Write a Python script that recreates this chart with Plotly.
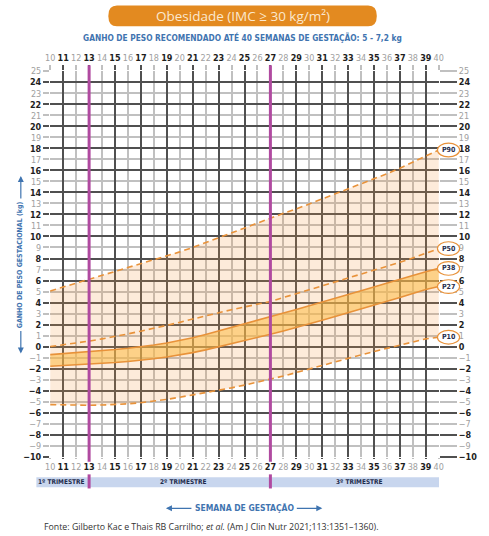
import plotly.graph_objects as go

# ---------------- data ----------------
weeks = list(range(10, 41))
p90 = [5.05, 5.4, 5.75, 6.1, 6.45, 6.8, 7.15, 7.55, 7.85, 8.2, 8.6, 9.0, 9.45, 9.9, 10.35, 10.8,
       11.25, 11.7, 12.1, 12.5, 12.95, 13.4, 13.85, 14.3, 14.75, 15.2, 15.7, 16.2, 16.75, 17.3, 17.85]
p50 = [0.0, 0.15, 0.3, 0.5, 0.7, 0.9, 1.15, 1.4, 1.65, 1.9, 2.2, 2.5, 2.8, 3.1, 3.35, 3.6,
       3.85, 4.1, 4.45, 4.8, 5.15, 5.5, 5.85, 6.25, 6.6, 6.95, 7.3, 7.65, 8.05, 8.45, 8.9]
p38 = [-0.73, -0.65, -0.56, -0.48, -0.38, -0.27, -0.15, -0.03, 0.15, 0.33, 0.55, 0.8, 1.1, 1.42, 1.72, 2.02,
       2.35, 2.7, 3.03, 3.36, 3.7, 4.06, 4.4, 4.73, 5.07, 5.4, 5.75, 6.1, 6.45, 6.8, 7.1]
p27 = [-1.79, -1.73, -1.66, -1.6, -1.52, -1.45, -1.35, -1.24, -1.1, -0.94, -0.75, -0.55, -0.3, -0.03, 0.25, 0.53,
       0.82, 1.12, 1.42, 1.73, 2.06, 2.4, 2.73, 3.06, 3.41, 3.76, 4.1, 4.45, 4.82, 5.18, 5.45]
p10 = [-5.27, -5.3, -5.32, -5.33, -5.31, -5.27, -5.2, -5.1, -4.97, -4.8, -4.6, -4.4, -4.18, -3.97, -3.75, -3.5,
       -3.25, -3.0, -2.68, -2.36, -2.03, -1.7, -1.38, -1.06, -0.75, -0.45, -0.15, 0.15, 0.43, 0.7, 0.85]

curve_names = ["P90", "P50", "P38", "P27", "P10"]
trimester_weeks = [13, 27]
trimester_labels = ["1º TRIMESTRE", "2º TRIMESTRE", "3º TRIMESTRE"]
trimester_label_x = [10.9, 20.3, 33.9]

title_text = "Obesidade (IMC ≥ 30 kg/m²)"
subtitle_text = "GANHO DE PESO RECOMENDADO ATÉ 40 SEMANAS DE GESTAÇÃO: 5 - 7,2 kg"
ytitle_text = "GANHO DE PESO GESTACIONAL (kg)"
xtitle_text = "SEMANA DE GESTAÇÃO"
source_text = "Fonte: Gilberto Kac e Thais RB Carrilho; <i>et al.</i> (Am J Clin Nutr 2021;113:1351–1360)."

# ---------------- style ----------------
ORANGE = "#e8923a"
LIGHT_FILL = "rgba(245,150,60,0.19)"
BAND_FILL = "rgba(253,188,70,0.55)"
DARK_GRID = "#505050"
LIGHT_GRID = "#c0c0c0"
DARK_TXT = "#1e1e1e"
LIGHT_TXT = "#a0a0a0"
MAGENTA = "#b04aa0"
BLUE = "#3f74b0"
NAVY = "#1f2d4d"
COND = "DejaVu Sans Condensed, Liberation Sans Narrow, Arial Narrow, sans-serif"

XR = [9.98, 40.02]
YR = [-10.03, 25.03]

fig = go.Figure()

# fills
fig.add_trace(go.Scatter(x=weeks, y=p10, mode="lines", line=dict(width=0), showlegend=False, hoverinfo="skip"))
fig.add_trace(go.Scatter(x=weeks, y=p90, mode="lines", line=dict(width=0), fill="tonexty",
                         fillcolor=LIGHT_FILL, showlegend=False, hoverinfo="skip"))
fig.add_trace(go.Scatter(x=weeks, y=p27, mode="lines", line=dict(width=0), showlegend=False, hoverinfo="skip"))
fig.add_trace(go.Scatter(x=weeks, y=p38, mode="lines", line=dict(width=0), fill="tonexty",
                         fillcolor=BAND_FILL, showlegend=False, hoverinfo="skip"))

# lines
series = {"P90": p90, "P50": p50, "P38": p38, "P27": p27, "P10": p10}
for name in curve_names:
    dashed = name in ("P90", "P50", "P10")
    fig.add_trace(go.Scatter(x=weeks, y=series[name], mode="lines", name=name, showlegend=False,
                             line=dict(color=ORANGE, width=1.6, dash="6px,4px" if dashed else "solid")))

# dummy traces for overlay axes
for k in (2, 3, 4):
    fig.add_trace(go.Scatter(x=[None], y=[None], xaxis=f"x{k}", yaxis=f"y{k}", showlegend=False,
                             hoverinfo="skip"))

tf_dark = dict(family=COND, size=9, color=DARK_TXT, weight="bold")
tf_light = dict(family=COND, size=9, color=LIGHT_TXT)

common = dict(range=XR, fixedrange=True, zeroline=False, showline=False, tickmode="linear", dtick=2)
fig.update_layout(
    width=489, height=536,
    margin=dict(l=50, r=40, t=71, b=79),
    paper_bgcolor="white", plot_bgcolor="white",
    showlegend=False,
    xaxis=dict(**common, tick0=11, side="bottom", anchor="y", tickfont=tf_dark,
               ticks="outside", ticklen=1, tickcolor=DARK_GRID, tickwidth=1.5,
               showgrid=True, gridcolor=DARK_GRID, gridwidth=1.6,
               minor=dict(showgrid=True, gridcolor=LIGHT_GRID, gridwidth=1.6, dtick=1, tick0=10)),
    xaxis2=dict(**common, tick0=10, side="bottom", anchor="y2", overlaying="x", tickfont=tf_light,
                ticks="outside", ticklen=1, tickcolor=LIGHT_GRID, tickwidth=1.5, showgrid=False),
    xaxis3=dict(**common, tick0=11, side="top", anchor="y3", overlaying="x", tickfont=tf_dark,
                ticks="outside", ticklen=5, tickcolor=DARK_GRID, tickwidth=1.5, showgrid=False),
    xaxis4=dict(**common, tick0=10, side="top", anchor="y4", overlaying="x", tickfont=tf_light,
                ticks="outside", ticklen=5, tickcolor=LIGHT_GRID, tickwidth=1.5, showgrid=False),
)
ycommon = dict(range=YR, fixedrange=True, zeroline=False, showline=False, tickmode="linear", dtick=2)
fig.update_layout(
    yaxis=dict(**ycommon, tick0=0, side="left", anchor="x", tickfont=tf_dark,
               ticks="outside", ticklen=6, tickcolor=DARK_GRID, tickwidth=1.5,
               showgrid=True, gridcolor=DARK_GRID, gridwidth=1.6,
               minor=dict(showgrid=True, gridcolor=LIGHT_GRID, gridwidth=1.6, dtick=1, tick0=-10)),
    yaxis2=dict(**ycommon, tick0=1, side="left", anchor="x2", overlaying="y", tickfont=tf_light,
                ticks="outside", ticklen=6, tickcolor=LIGHT_GRID, tickwidth=1.5, showgrid=False),
    yaxis3=dict(**ycommon, tick0=0, side="right", anchor="x3", overlaying="y", tickfont=tf_dark,
                ticks="outside", ticklen=17, tickcolor=DARK_GRID, tickwidth=1.6, showgrid=False),
    yaxis4=dict(**ycommon, tick0=1, side="right", anchor="x4", overlaying="y", tickfont=tf_light,
                ticks="outside", ticklen=17, tickcolor=LIGHT_GRID, tickwidth=1.6, showgrid=False),
)

shapes = []
# trimester vertical lines
for w in trimester_weeks:
    shapes.append(dict(type="line", xref="x", yref="paper", x0=w, x1=w, y0=-0.012, y1=1.015,
                       line=dict(color=MAGENTA, width=3), layer="above"))
# trimester band
shapes.append(dict(type="rect", xref="paper", yref="paper", x0=-0.035, x1=1.0, y0=-0.0785, y1=-0.0526,
                   fillcolor="#c8d6ee", line=dict(width=0), layer="above"))
for w in trimester_weeks:
    shapes.append(dict(type="line", xref="x", yref="paper", x0=w, x1=w, y0=-0.0815, y1=-0.045,
                       line=dict(color=MAGENTA, width=3), layer="above"))
# title pill
x0, x1, y0, y1 = 0.150, 0.840, 1.116, 1.170
rx, ry = 0.022, 0.026
path = (f"M {x0+rx},{y0} L {x1-rx},{y0} Q {x1},{y0} {x1},{y0+ry} L {x1},{y1-ry} Q {x1},{y1} {x1-rx},{y1} "
        f"L {x0+rx},{y1} Q {x0},{y1} {x0},{y1-ry} L {x0},{y0+ry} Q {x0},{y0} {x0+rx},{y0} Z")
shapes.append(dict(type="path", xref="paper", yref="paper", path=path, fillcolor="#e38a20",
                   line=dict(width=0), layer="above"))

annotations = []
# percentile labels
for name in curve_names:
    yv = series[name][-1]
    shapes.append(dict(type="circle", xref="paper", yref="y", x0=0.996, x1=1.053, y0=yv - 0.62, y1=yv + 0.62,
                       fillcolor="white", line=dict(color=ORANGE, width=1.2), layer="above"))
    annotations.append(dict(x=1.0245, y=yv, xref="paper", yref="y", text=f"<b>{name}</b>", showarrow=False,
                            xanchor="center", yanchor="middle",
                            font=dict(family=COND, size=7, color=NAVY)))

for lbl, xv in zip(trimester_labels, trimester_label_x):
    annotations.append(dict(x=xv, y=-0.0655, xref="x", yref="paper", text=f"<b>{lbl}</b>", showarrow=False,
                            xanchor="center", yanchor="middle",
                            font=dict(family=COND, size=6.5, color=NAVY)))

annotations += [
    dict(x=0.495, y=1.143, xref="paper", yref="paper", text=title_text, showarrow=False,
         xanchor="center", yanchor="middle",
         font=dict(family="Open Sans", size=13.5, color="#fbe8cf")),
    dict(x=0.495, y=1.088, xref="paper", yref="paper", text=f"<b>{subtitle_text}</b>", showarrow=False,
         xanchor="center", yanchor="middle",
         font=dict(family=COND, size=8.3, color=BLUE)),
    dict(x=-0.075, y=0.499, xref="paper", yref="paper", text=f"<b>{ytitle_text}</b>", showarrow=False,
         xanchor="center", yanchor="middle",
         textangle=-90, font=dict(family=COND, size=7, color=BLUE)),
    dict(x=0.499, y=-0.133, xref="paper", yref="paper", text=f"<b>{xtitle_text}</b>", showarrow=False,
         xanchor="center", yanchor="middle",
         font=dict(family=COND, size=8.5, color=BLUE)),
    dict(x=-0.02, y=-0.182, xref="paper", yref="paper", text=source_text, showarrow=False,
         xanchor="left", yanchor="middle",
         font=dict(family="Open Sans", size=8.8, color="#333333")),
]
# arrows
arrow = dict(xref="paper", yref="paper", text="", showarrow=True, arrowhead=2, arrowsize=1,
             arrowwidth=1.2, arrowcolor=BLUE, axref="pixel", ayref="pixel")
annotations += [
    dict(**arrow, x=0.298, y=-0.133, ax=27, ay=0),
    dict(**arrow, x=0.70, y=-0.133, ax=-27, ay=0),
    dict(**arrow, x=-0.075, y=0.728, ax=0, ay=24),
    dict(**arrow, x=-0.075, y=0.268, ax=0, ay=-24),
]

fig.update_layout(shapes=shapes, annotations=annotations)
fig.write_html("out.html", post_script="document.body.style.margin='0';",
               config={"displayModeBar": False})
